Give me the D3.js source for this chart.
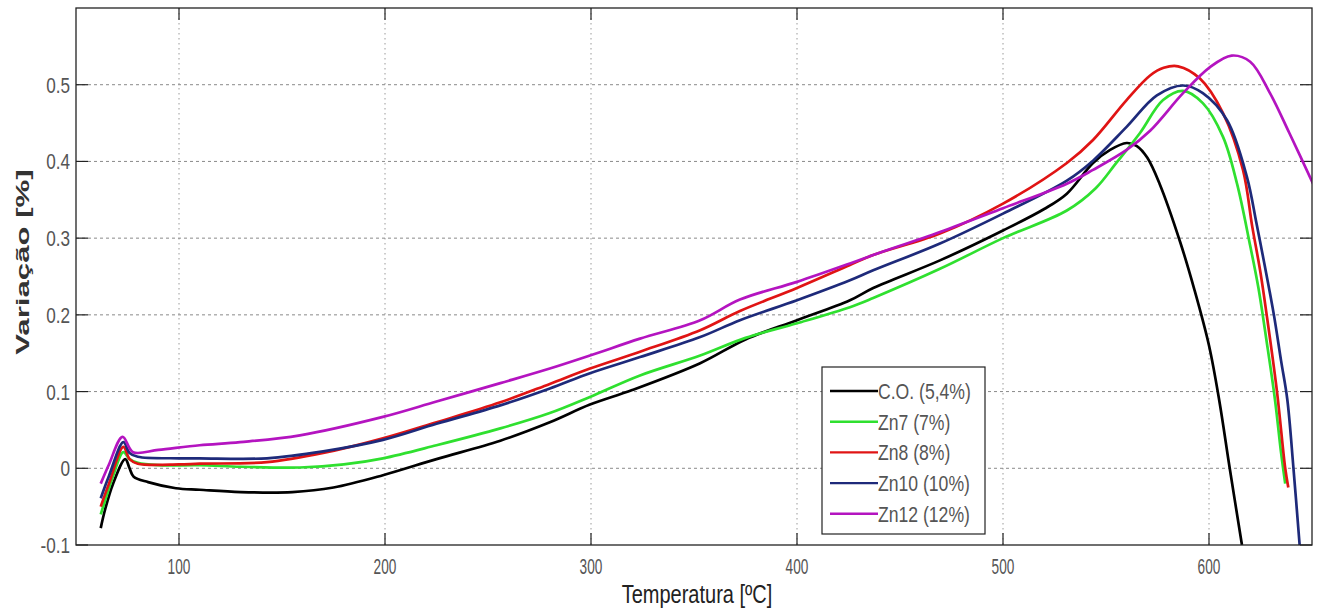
<!DOCTYPE html>
<html>
<head>
<meta charset="utf-8">
<script src="https://cdn.jsdelivr.net/npm/d3@7"></script>
<style>
  html, body { margin: 0; padding: 0; background: #fff; }
  svg { display: block; }
</style>
</head>
<body>
<svg id="chart" width="1319" height="613"></svg>
<script>
// Dilatometry curves: thermal variation (%) vs temperature (ºC)
const xTicks = [100, 200, 300, 400, 500, 600];
const yTicks = [-0.1, 0, 0.1, 0.2, 0.3, 0.4, 0.5];
const yTickLabels = ["-0.1", "0", "0.1", "0.2", "0.3", "0.4", "0.5"];

const seriesNames = ["C.O. (5,4%)", "Zn7 (7%)", "Zn8 (8%)", "Zn10 (10%)", "Zn12 (12%)"];
const seriesColors = ["#000000", "#2fe02f", "#e01414", "#1e2a7a", "#b414c0"];

const coTemp = [62, 64, 68, 73.9, 76, 78, 85, 98.5, 110, 130, 155, 175, 199, 225, 256, 280, 299.5, 320, 353, 375, 400, 425.7, 437, 469.4, 500, 520, 531, 543.7, 552, 560, 565, 570, 576, 586, 593, 600, 605, 610, 616];
const coVar  = [-0.078, -0.055, -0.02, 0.012, 0.0, -0.011, -0.018, -0.026, -0.028, -0.031, -0.031, -0.025, -0.009, 0.012, 0.036, 0.06, 0.083, 0.102, 0.137, 0.168, 0.193, 0.219, 0.235, 0.271, 0.310, 0.338, 0.358, 0.398, 0.415, 0.424, 0.42, 0.405, 0.371, 0.295, 0.232, 0.16, 0.088, 0.001, -0.1];

const zn7Temp = [62, 64.6, 68, 73, 76, 80, 90, 110, 130, 158.7, 180, 199, 225, 256, 280, 299.5, 323.8, 353, 375, 400, 425.7, 437, 469.4, 500, 531, 545, 555, 566.5, 577.7, 587.4, 597, 606.8, 613.6, 620, 624, 628, 632, 635, 637];
const zn7Var  = [-0.06, -0.038, -0.01, 0.021, 0.012, 0.007, 0.004, 0.004, 0.002, 0.001, 0.005, 0.013, 0.03, 0.052, 0.072, 0.093, 0.121, 0.147, 0.17, 0.189, 0.21, 0.222, 0.26, 0.300, 0.336, 0.365, 0.398, 0.437, 0.48, 0.492, 0.476, 0.432, 0.371, 0.29, 0.235, 0.165, 0.09, 0.02, -0.02];

const zn8Temp = [62, 66, 73, 76, 80, 100, 110, 142.7, 170, 199, 225, 256, 280, 299.5, 323.8, 353, 372.3, 400, 425.7, 437, 469.4, 500, 531, 543.7, 560, 571.4, 578, 585, 595.6, 606.8, 616.5, 621, 625, 628, 633, 637, 638.5];
const zn8Var  = [-0.05, -0.02, 0.028, 0.012, 0.006, 0.005, 0.006, 0.008, 0.02, 0.039, 0.06, 0.086, 0.11, 0.13, 0.152, 0.18, 0.205, 0.235, 0.265, 0.278, 0.306, 0.345, 0.398, 0.428, 0.48, 0.512, 0.522, 0.524, 0.508, 0.463, 0.389, 0.315, 0.255, 0.2, 0.1, 0.0, -0.025];

const zn10Temp = [62, 66, 73, 76, 80, 100, 110, 142.7, 170, 199, 225, 256, 280, 299.5, 323.8, 353, 372.3, 400, 425.7, 437, 469.4, 500, 531, 543.7, 560, 574.7, 587.4, 597, 608.7, 618.4, 623, 627, 631.5, 635, 638, 641, 644];
const zn10Var  = [-0.039, -0.01, 0.034, 0.02, 0.015, 0.013, 0.013, 0.013, 0.022, 0.037, 0.058, 0.082, 0.104, 0.124, 0.145, 0.171, 0.193, 0.219, 0.245, 0.258, 0.293, 0.332, 0.375, 0.401, 0.445, 0.486, 0.499, 0.489, 0.454, 0.38, 0.32, 0.265, 0.2, 0.14, 0.09, 0.0, -0.1];

const zn12Temp = [62, 66, 72.6, 77.7, 90, 110, 129.6, 158.7, 199, 225, 256, 280, 299.5, 323.8, 353, 372.3, 400, 425.7, 437, 469.4, 500, 531, 543.7, 560, 571.4, 587.4, 600.5, 611, 620, 629.6, 639, 650.5];
const zn12Var  = [-0.02, 0.005, 0.041, 0.021, 0.024, 0.030, 0.034, 0.043, 0.067, 0.087, 0.111, 0.13, 0.147, 0.169, 0.193, 0.22, 0.243, 0.267, 0.278, 0.308, 0.339, 0.371, 0.389, 0.415, 0.44, 0.489, 0.523, 0.538, 0.530, 0.489, 0.437, 0.371];

const seriesTemps = [coTemp, zn7Temp, zn8Temp, zn10Temp, zn12Temp];
const seriesVars = [coVar, zn7Var, zn8Var, zn10Var, zn12Var];

const svg = d3.select("#chart");
const plot = { left: 76, right: 1312, top: 8, bottom: 545 };

const x = d3.scaleLinear().domain([50, 650]).range([plot.left, plot.right]);
const y = d3.scaleLinear().domain([-0.1, 0.6]).range([plot.bottom, plot.top]);

// narrow text helper (labels are horizontally condensed)
function label(g, tx, ty, str, opts) {
  return g.append("text")
    .attr("transform", `translate(${tx},${ty}) ${opts.rotate ? "rotate(-90)" : ""} scale(${opts.sx || 1},${opts.sy || 1})`)
    .attr("text-anchor", opts.anchor || "middle")
    .attr("font-family", "'Liberation Sans', Arial, sans-serif")
    .attr("font-size", opts.size)
    .attr("font-weight", opts.weight || "normal")
    .attr("fill", opts.fill || "#444")
    .text(str);
}

// grid
const grid = svg.append("g");
grid.selectAll("line.gx").data(xTicks).join("line")
  .attr("x1", d => x(d)).attr("x2", d => x(d))
  .attr("y1", plot.top).attr("y2", plot.bottom)
  .attr("stroke", "#9a9a9a").attr("stroke-width", 1).attr("stroke-dasharray", "1.5,3.5");
grid.selectAll("line.gy").data(yTicks.slice(1)).join("line")
  .attr("y1", d => y(d)).attr("y2", d => y(d))
  .attr("x1", plot.left).attr("x2", plot.right)
  .attr("stroke", "#8a8a8a").attr("stroke-width", 1).attr("stroke-dasharray", "3,3");

// inward ticks on all four sides
const tl = 12;
const axisG = svg.append("g").attr("stroke", "#222").attr("stroke-width", 1.2);
xTicks.forEach(t => {
  axisG.append("line").attr("x1", x(t)).attr("x2", x(t)).attr("y1", plot.bottom).attr("y2", plot.bottom - tl);
  axisG.append("line").attr("x1", x(t)).attr("x2", x(t)).attr("y1", plot.top).attr("y2", plot.top + tl);
});
yTicks.forEach(t => {
  axisG.append("line").attr("y1", y(t)).attr("y2", y(t)).attr("x1", plot.left).attr("x2", plot.left + tl);
  axisG.append("line").attr("y1", y(t)).attr("y2", y(t)).attr("x1", plot.right).attr("x2", plot.right - tl);
});

// curves
svg.append("clipPath").attr("id", "clip").append("rect")
  .attr("x", plot.left).attr("y", plot.top)
  .attr("width", plot.right - plot.left).attr("height", plot.bottom - plot.top);

const line = d3.line().x(d => x(d[0])).y(d => y(d[1])).curve(d3.curveCatmullRom.alpha(0.5));
const curves = svg.append("g").attr("clip-path", "url(#clip)");
seriesNames.forEach((name, i) => {
  const pts = seriesTemps[i].map((t, j) => [t, seriesVars[i][j]]);
  curves.append("path").datum(pts)
    .attr("d", line)
    .attr("fill", "none")
    .attr("stroke", seriesColors[i])
    .attr("stroke-width", 2.7)
    .attr("stroke-linejoin", "round");
});

// box
svg.append("rect")
  .attr("x", plot.left).attr("y", plot.top)
  .attr("width", plot.right - plot.left).attr("height", plot.bottom - plot.top)
  .attr("fill", "none").attr("stroke", "#222").attr("stroke-width", 1.3);

// tick labels
const tickG = svg.append("g");
xTicks.forEach(t => label(tickG, x(t), 574, String(t), { size: 22, sx: 0.62, fill: "#555" }));
yTicks.forEach((t, i) => label(tickG, 70, y(t) + 8, yTickLabels[i], { size: 22, sx: 0.78, anchor: "end", fill: "#555" }));

// axis titles
label(svg, 697, 603, "Temperatura [ºC]", { size: 25, sx: 0.8, fill: "#222" });
label(svg, 29, 262, "Variação [%]", { size: 24, rotate: true, sx: 1.3, sy: 0.8, weight: "bold", fill: "#333" });

// legend
const lg = svg.append("g");
lg.append("rect").attr("x", 822).attr("y", 367).attr("width", 163).attr("height", 167)
  .attr("fill", "#fff").attr("stroke", "#222").attr("stroke-width", 1.2);
seriesNames.forEach((name, i) => {
  const ly = 391 + i * 30.7;
  lg.append("line").attr("x1", 830).attr("x2", 878).attr("y1", ly).attr("y2", ly)
    .attr("stroke", seriesColors[i]).attr("stroke-width", 2.4);
  label(lg, 878, ly + 8, name, { size: 22, sx: 0.8, anchor: "start", fill: "#555" });
});
</script>
</body>
</html>
